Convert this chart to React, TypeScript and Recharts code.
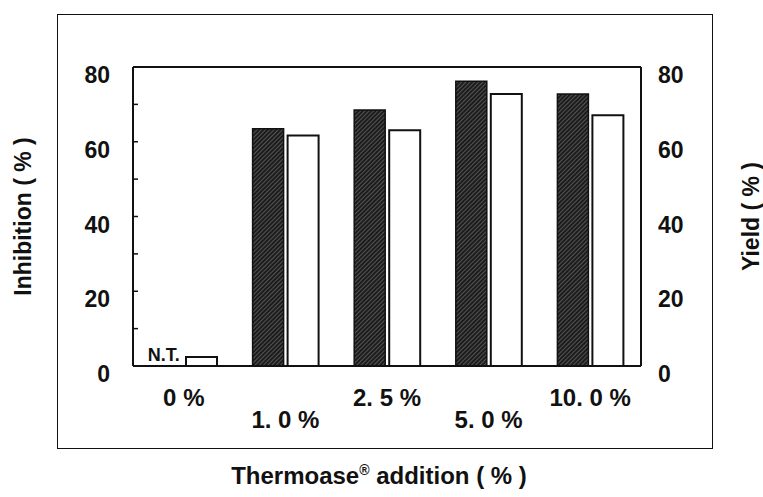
import { Bar, BarChart, ReferenceDot, XAxis, YAxis } from "recharts";

// doses of Thermoase added (x categories)
const categories = ["0 %", "1. 0 %", "2. 5 %", "5. 0 %", "10. 0 %"];
// inhibition (%), left axis; 0 % was not tested
const inhibition = [0, 63.5, 68.5, 76.2, 72.8];
const inhibitionNotes = ["N.T.", "", "", "", ""];
// yield (%), right axis
const yieldPct = [2.4, 61.7, 63.1, 72.8, 67.1];
const labelTicks = [0, 20, 40, 60, 80];
const leftTicks = [0, 10, 20, 30, 40, 50, 60, 70, 80];

const data = categories.map((dose, i) => ({
  dose,
  inhibition: inhibition[i],
  yield: yieldPct[i],
}));

const FONT = "'Liberation Sans', Arial, Helvetica, sans-serif";
const INK = "#111";
const LEFT_MARGIN = 23;

// left axis: small inward tick every 10, number every 20
const LeftTick = ({ x, y, payload }: any) => (
  <g>
    <line x1={x + LEFT_MARGIN} x2={x + LEFT_MARGIN + 5} y1={y} y2={y} stroke={INK} strokeWidth={1.5} />
    {payload.value % 20 === 0 && (
      <text x={x} y={y + 16} textAnchor="end" fontFamily={FONT} fontWeight="bold" fontSize={23} fill={INK}>
        {payload.value}
      </text>
    )}
  </g>
);

const RightTick = ({ x, y, payload }: any) => (
  <text x={x} y={y + 16} textAnchor="start" fontFamily={FONT} fontWeight="bold" fontSize={23} fill={INK}>
    {payload.value}
  </text>
);

// labels alternate between two rows
const DoseTick = ({ x, y, payload, index }: any) => (
  <text
    x={x}
    y={y + (index % 2 ? 62 : 40)}
    textAnchor="middle"
    fontFamily={FONT}
    fontWeight="bold"
    fontSize={24}
    fill={INK}
  >
    {payload.value}
  </text>
);

const XTitle = ({ viewBox }: any) => {
  const { x, y, width, height } = viewBox;
  return (
    <text
      x={x + width / 2 - 8}
      y={y + height - 13}
      textAnchor="middle"
      fontFamily={FONT}
      fontWeight="bold"
      fontSize={24}
      fill={INK}
    >
      Thermoase
      <tspan dy={-9} fontSize={14}>®</tspan>
      <tspan dy={9}> addition ( % )</tspan>
    </text>
  );
};

// "N.T." sits over the (missing) inhibition bar, left of the group centre
const NoteLabel = ({ viewBox, value }: any) => {
  if (!viewBox || !value) return null;
  return (
    <text
      x={viewBox.x + viewBox.width / 2 - 20}
      y={viewBox.y + viewBox.height / 2 - 5}
      textAnchor="middle"
      fontFamily={FONT}
      fontWeight="bold"
      fontSize={18}
      fill={INK}
    >
      {value}
    </text>
  );
};

const titleStyle = { textAnchor: "middle" as const };

export default function App() {
  return (
    <div style={{ position: "absolute", left: 0, top: 0, width: 763, height: 497, background: "#fff" }}>
      <div
        style={{
          position: "absolute",
          left: 57,
          top: 14,
          width: 654,
          height: 433,
          border: `1.5px solid ${INK}`,
        }}
      />
      <div style={{ position: "absolute", left: 0, top: 0 }}>
        <BarChart
          width={763}
          height={497}
          data={data}
          margin={{ top: 66, right: 0, bottom: 0, left: 0 }}
          barGap={4}
          barSize={31}
        >
          <defs>
            <pattern id="hatch" width="3" height="3" patternUnits="userSpaceOnUse" patternTransform="rotate(45)">
              <rect width="3" height="3" fill="#1c1c1c" />
              <line x1="0" y1="0" x2="0" y2="3" stroke="#8a8a8a" strokeWidth="1" />
            </pattern>
          </defs>
          <XAxis
            dataKey="dose"
            height={131}
            interval={0}
            tickLine={false}
            tickSize={0}
            tickMargin={0}
            axisLine={{ stroke: INK, strokeWidth: 2 }}
            tick={<DoseTick />}
            label={<XTitle />}
          />
          <XAxis
            xAxisId="top"
            orientation="top"
            dataKey="dose"
            height={1}
            tick={false}
            tickLine={false}
            axisLine={{ stroke: INK, strokeWidth: 2 }}
          />
          <YAxis
            yAxisId="inh"
            orientation="left"
            width={133}
            domain={[0, 80]}
            ticks={leftTicks}
            interval={0}
            tickLine={false}
            tickSize={0}
            tickMargin={LEFT_MARGIN}
            axisLine={{ stroke: INK, strokeWidth: 2 }}
            tick={<LeftTick />}
            label={{
              value: "Inhibition ( % )",
              angle: -90,
              position: "insideLeft",
              offset: 23,
              style: titleStyle,
              fontFamily: FONT,
              fontWeight: "bold",
              fontSize: 23,
              fill: INK,
            }}
          />
          <YAxis
            yAxisId="yld"
            orientation="right"
            width={122}
            domain={[0, 80]}
            ticks={labelTicks}
            tickLine={false}
            tickSize={0}
            tickMargin={17}
            axisLine={{ stroke: INK, strokeWidth: 2 }}
            tick={<RightTick />}
            label={{
              value: "Yield ( % )",
              angle: -90,
              position: "insideRight",
              offset: 12,
              style: titleStyle,
              fontFamily: FONT,
              fontWeight: "bold",
              fontSize: 23,
              fill: INK,
            }}
          />
          <Bar
            dataKey="inhibition"
            yAxisId="inh"
            fill="url(#hatch)"
            stroke={INK}
            strokeWidth={1.5}
            isAnimationActive={false}
          />
          <Bar
            dataKey="yield"
            yAxisId="yld"
            fill="#fff"
            stroke={INK}
            strokeWidth={2}
            isAnimationActive={false}
          />
          {categories.map((dose, i) =>
            inhibitionNotes[i] ? (
              <ReferenceDot
                key={dose}
                x={dose}
                y={inhibition[i]}
                yAxisId="inh"
                r={1}
                fill="none"
                stroke="none"
                ifOverflow="visible"
                label={<NoteLabel value={inhibitionNotes[i]} />}
              />
            ) : null
          )}
        </BarChart>
      </div>
    </div>
  );
}
